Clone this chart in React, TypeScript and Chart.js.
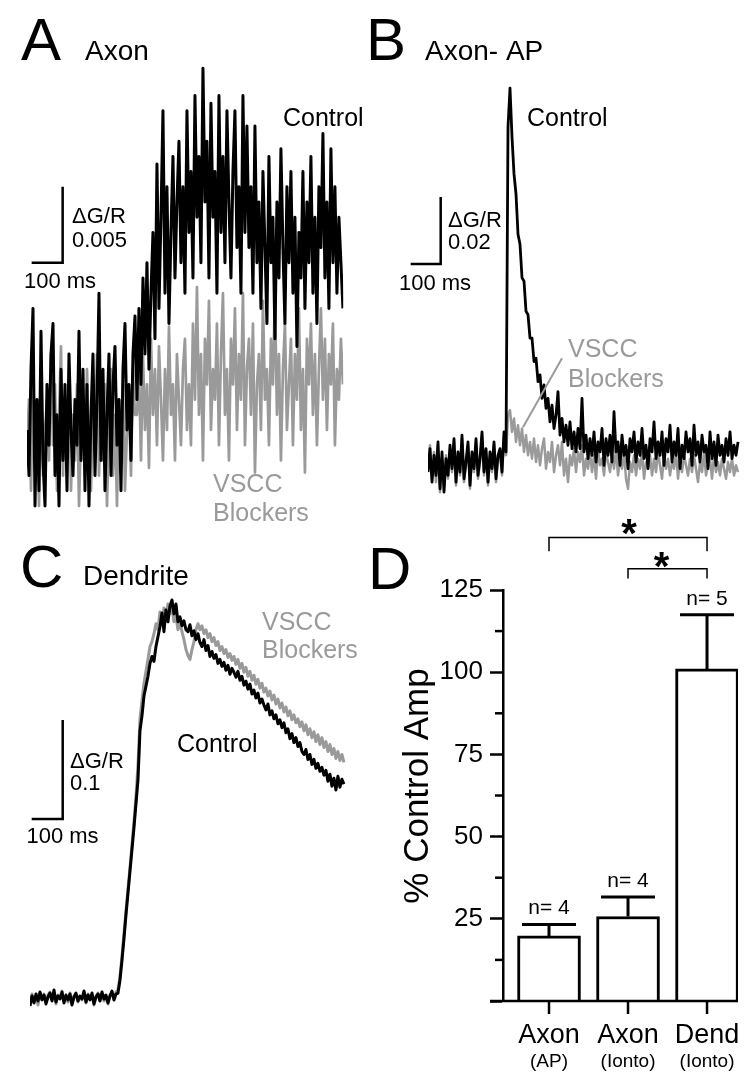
import React, { useEffect, useRef } from "react";
import { Chart, registerables } from "chart.js";

Chart.register(...registerables);

const PAGE_W = 750;
const PAGE_H = 1075;
const FONT = "'Liberation Sans', Arial, Helvetica, sans-serif";
const BLACK = "#000000";
const GRAY = "#9a9a9a";

// ---------------- Panel A: Axon (iontophoresis), ΔG/R ×10⁻³ -----------------
const axonSampleMs = 6.45;
const axonControl = [
  0, -3, 4, 8, -5, 2, -4, 6.5, -2, -5, 3, -1, 5, 7, -3, 1, -5, 4, -2, 3,
  -4, 5, 0, -3, 2, -1, 6.5, -2, 4, -4, 3, -5, 1, 5, -3, 2, 9, -2, 4, -4,
  1, 5, -3, 3, 5.5, -1, 2, -4, 4, 7, 0, 3, -2, 5, 7.5,
  2, 8, 3, 10, 5, 11, 4, 9, 13, 6, 17.5, 8, 14, 21, 9, 16, 7, 13, 18, 10,
  15, 19, 11, 16, 9, 21, 13, 17, 10, 22, 14, 18, 11, 23.8, 15, 19, 10, 21.5, 14, 17,
  9, 22, 13, 18, 11, 21, 15, 10, 17, 21, 12, 16, 9, 22, 13,
  20, 12, 16, 9, 20, 11, 15, 8, 17, 12, 7, 18, 11, 14, 6, 15, 10, 18.5, 12, 7,
  16, 11, 17, 9, 14, 5.5, 13, 10, 17, 8, 15, 11, 18, 9, 14, 7, 16, 12, 19.5, 10,
  15, 8, 18.5, 11, 16, 9, 14, 11, 8,
];
const axonBlockers = [
  -1, 2, -4, 3, -2, 1, -5, 4, -3, 0, 2, -2, 5, -1, 3, -4, 1, 5.5, -3, 2,
  -1, 4, -4, 1, -2, 3, -5, 0, 2, -3, 4, -1, -4, 2, 0, 5, -3, 1, -2, 3,
  -5, 0, 4, -3, 1, -5, 2, -1, 3, -4, 0, 2, -3, 4, 1,
  1, 4, -2, 5, 0, 3, -2.5, 6, 1, 4, -1, 5.5, 2, -2, 4, 0, 6.8, 1, 3, -2,
  5, 2, -1, 4, 6, 0, 3,
  -1, 7, 2, 9.4, 1, 5, -2, 6, 3, 8.5, 0, 4, 2, 7, -1, 5, 9, 1, 4, -2,
  6, 3, 8, 0, 5, 2, 9, -1, 4, 6, 1, 7, -2.8, 3, 5, 0, 8.5, 2, 4, -1,
  6, 3, 9, 1, 5, -2, 4, 7, 0, 3, 6, -1, 5, 2, 8, 0, 4, -2.8, 6, 3,
  7, 1, 5, -1, 4, 8, 2, 6, 0, 5, 3, 7, -1, 4, 2, 6, 3,
];

// ---------------- Panel B: Axon, single AP, ΔG/R ×10⁻³ -----------------
const apSampleMs = 6.667;
const apControl = [
  -3, 4, -6, 2, -4, 6, -8, 3, -9, 1, -4, 5, -2, 7, -6, 3, -3, 8, -5, 0,
  6, -7, 3, -2, 7, -4, 1, 9, -3, 4, -6, 3, -2, 6, -5, 2, 4, -3, 9, 3,
  100, 111.6,
  97, 86, 80, 68, 65, 55, 54, 45, 44, 37, 37, 30, 31, 24, 26, 19, 23, 16, 19, 12,
  17, 10, 14, 21, 8, 13, 6, 11, 5, 12, 4, 9, 3, 10, 4, 19, 3, 8, 1, 7,
  2, 9, 0, 6, 3, 10, -1, 7, 2, 8, 0, 15, 3, 6, -1, 8, 2, 5, -2, 7,
  3, 9, 0, 6, 2, 10, 1, 5, -2, 7, 3, 12, 1, 6, 2, 9, -1, 7, 3, 11,
  0, 6, 2, 10, -2, 5, 1, 9, 3, 7, -1, 11, 2, 6, 0, 8, 3, 5, -2, 9,
  1, 6, -1, 8, 2, 5, 0, 7, 2, 9, 1, 5, 2, 6,
];
const apBlockers = [
  -2, 5, -5, 3, -6, 4, -9, 1, -7, 2, -5, 4, -3, 6, -7, 2, -4, 7, -6, -1,
  5, -8, 2, -3, 6, -5, 0, 8, -4, 3, -7, 2, -3, 5, -6, 1, 3, -4, 7, 2,
  14, 15.5, 9, 13, 6, 11, 5, 10, 3, 8, 2,
  6, 1, 7, 0, 5, -1, 4, 7, -2, 3, 0, 6, -3, 2, 5, -1, 6, -4, 1, -6,
  2, -1, 4, -3, 3, 0, 5, -4, 1, -2, 3, -3, 2, -5, 4, -1, 1, -4, 3, 0,
  -3, 2, -2, 4, -4, 1, -2, 3, -5, -8, 0, -3, 2, -4, 1, -2, 3, -5, 0, -2,
  2, -4, 1, -3, 3, -1, -5, 2, -2, 1, -4, 0, -2, 3, -5, 1, -3, 2, -1, -4,
  1, -3, 2, -2, -6, 0, -3, 3, -4, -1, 1, -5, 2, -3, 0, -4, 1, -2, -5, 0,
  -3, 1, -4, -1, -3,
];

// ---------------- Panel C: Dendrite, ΔG/R ×10⁻³ -----------------
const dendSampleMs = 6.45;
const dendControl = [
  -8, 2, -5, 4, -3, 6, -2, 3, -6, 1, 5, -3, 8, -4, 2, -1, 6, -5, 3, -2,
  4, -7, 1, 5, -3, 2, -1, 7, -4, 3, -2, 5, -6, 1, 4, -3, 6, -1, 3, -5,
  2, 7, -2, 4,
  5, 18, 38, 60, 84, 106, 128, 150, 172, 196, 220, 270, 285, 305, 315, 325, 338, 345, 340, 355,
  365, 375, 389, 370, 392, 380, 396, 402, 388, 398, 380,
  385, 376, 381, 372, 370, 377, 366, 371, 362, 368, 359, 355, 362, 351, 356, 345, 350, 343, 347, 338,
  342, 335, 339, 331, 336, 327, 333, 329, 324, 330, 321, 325, 316, 320, 312, 317, 307, 311, 303, 308,
  298, 302, 296, 291, 297, 286, 290, 282, 286, 277, 281, 273, 278, 268, 272, 262, 267, 258, 263, 254,
  258, 249, 246, 251, 241, 246, 236, 241, 232, 237, 229, 233, 225, 230, 219, 226, 214, 222, 210, 224,
  213, 221, 216,
];
const dendBlockers = [
  -6, 4, -3, 2, -7, 5, -1, 4, -4, 3, 6, -2, 5, -6, 3, 0, 7, -3, 2, -4,
  5, -5, 2, 3, -4, 1, -2, 6, -5, 4, -1, 3, -7, 2, 5, -2, 4, -3, 1, -6,
  3, 5, -1, 6,
  8, 22, 42, 65, 88, 110, 132, 155, 178, 204, 235, 282, 300, 318, 330, 342, 355, 360, 368, 378,
  372, 390, 380, 394, 384, 398, 388, 395, 380, 386, 372,
  380, 370, 362, 352, 346, 342, 352, 360, 372, 378, 372, 376, 368, 372, 364, 368, 360, 364, 356, 360,
  351, 355, 348, 352, 344, 348, 341, 345, 337, 342, 333, 338, 329, 334, 325, 330, 321, 326, 317, 322,
  313, 318, 309, 313, 305, 310, 301, 306, 297, 302, 293, 298, 289, 294, 285, 290, 281, 286, 278, 282,
  274, 279, 270, 276, 266, 272, 263, 269, 259, 266, 256, 263, 253, 259, 249, 256, 246, 252, 242, 249,
  240, 246, 238,
];

// ---------------- Panel D: % control amplitude -----------------
const groupNames = ["Axon", "Axon", "Dend"];
const groupConditions = ["(AP)", "(Ionto)", "(Ionto)"];
const meanPctControl = [19.8, 25.7, 101];
const semPctControl = [3.5, 5.9, 16.5];
const cellCounts = [4, 4, 5];
const amplitudeTicks = [0, 25, 50, 75, 100, 125];
const minorAmplitudeTicks = [12.5, 37.5, 62.5, 87.5, 112.5];

// ---------------- helpers -----------------
function txt(
  ctx: CanvasRenderingContext2D,
  s: string,
  x: number,
  y: number,
  size: number,
  color = BLACK,
  align: CanvasTextAlign = "left",
  weight = "normal"
) {
  ctx.save();
  ctx.font = `${weight} ${size}px ${FONT}`;
  ctx.fillStyle = color;
  ctx.textAlign = align;
  ctx.textBaseline = "alphabetic";
  ctx.fillText(s, x, y);
  ctx.restore();
}

function scaleBar(chart: any, t0: number, t1: number, v0: number, v1: number) {
  const { ctx, scales } = chart;
  const x = scales.x;
  const y = scales.y;
  ctx.save();
  ctx.strokeStyle = BLACK;
  ctx.lineWidth = 2.5;
  ctx.lineJoin = "miter";
  ctx.lineCap = "butt";
  ctx.beginPath();
  ctx.moveTo(x.getPixelForValue(t0), y.getPixelForValue(v0));
  ctx.lineTo(x.getPixelForValue(t1), y.getPixelForValue(v0));
  ctx.lineTo(x.getPixelForValue(t1), y.getPixelForValue(v1));
  ctx.stroke();
  ctx.restore();
}

type Series = { values: number[]; dt: number; color: string; width: number };

function traceConfig(o: {
  left: number;
  right: number;
  top: number;
  bottom: number;
  xMax: number;
  yMin: number;
  yMax: number;
  series: Series[];
  draw: (chart: any) => void;
}): any {
  return {
    type: "line",
    data: {
      datasets: o.series.map((s, k) => ({
        data: s.values.map((v, i) => ({ x: i * s.dt, y: v })),
        borderColor: s.color,
        borderWidth: s.width,
        pointRadius: 0,
        tension: 0,
        fill: false,
        order: k,
        borderJoinStyle: "round",
      })),
    },
    options: {
      responsive: false,
      maintainAspectRatio: false,
      animation: false,
      devicePixelRatio: 1,
      events: [],
      layout: {
        padding: {
          left: o.left,
          right: PAGE_W - o.right,
          top: o.top,
          bottom: PAGE_H - o.bottom,
        },
      },
      scales: {
        x: { type: "linear", display: false, offset: false, min: 0, max: o.xMax },
        y: { type: "linear", display: false, min: o.yMin, max: o.yMax },
      },
      plugins: { legend: { display: false }, tooltip: { enabled: false } },
    },
    plugins: [{ id: "annot", afterDraw: o.draw }],
  };
}

// ---------------- panel configs -----------------
function makePanelA() {
  const pxPerMs = 0.31;
  const base = 430;
  const pxPerUnit = 15.2;
  return traceConfig({
    left: 27,
    right: 27 + 1020 * pxPerMs,
    top: base - 25 * pxPerUnit,
    bottom: base + 6 * pxPerUnit,
    xMax: 1020,
    yMin: -6,
    yMax: 25,
    series: [
      { values: axonControl, dt: axonSampleMs, color: BLACK, width: 3 },
      { values: axonBlockers, dt: axonSampleMs, color: GRAY, width: 2.7 },
    ],
    draw: (chart) => {
      const ctx = chart.ctx;
      scaleBar(chart, 15, 115, 11, 16);
      txt(ctx, "A", 21, 60, 60);
      txt(ctx, "Axon", 85, 60, 28);
      txt(ctx, "ΔG/R", 72, 223, 22);
      txt(ctx, "0.005", 72, 247, 22);
      txt(ctx, "100 ms", 60, 288, 22, BLACK, "center");
      txt(ctx, "Control", 283, 126, 25);
      txt(ctx, "VSCC", 213, 492, 25, GRAY);
      txt(ctx, "Blockers", 213, 521, 25, GRAY);
    },
  });
}

function makePanelB() {
  const pxPerMs = 0.3;
  const base = 462;
  const pxPerUnit = 3.35;
  return traceConfig({
    left: 428,
    right: 428 + 1040 * pxPerMs,
    top: base - 118 * pxPerUnit,
    bottom: base + 10 * pxPerUnit,
    xMax: 1040,
    yMin: -10,
    yMax: 118,
    series: [
      { values: apControl, dt: apSampleMs, color: BLACK, width: 2.8 },
      { values: apBlockers, dt: apSampleMs, color: GRAY, width: 2.5 },
    ],
    draw: (chart) => {
      const { ctx, scales } = chart;
      scaleBar(chart, -57.7, 42.3, 59.1, 79.1);
      // pointer from label to blocker trace
      ctx.save();
      ctx.strokeStyle = GRAY;
      ctx.lineWidth = 2;
      ctx.beginPath();
      ctx.moveTo(scales.x.getPixelForValue(316.7), scales.y.getPixelForValue(10.4));
      ctx.lineTo(scales.x.getPixelForValue(446.7), scales.y.getPixelForValue(31));
      ctx.stroke();
      ctx.restore();
      txt(ctx, "B", 366, 60, 60);
      txt(ctx, "Axon- AP", 425, 60, 28);
      txt(ctx, "ΔG/R", 448, 227, 22);
      txt(ctx, "0.02", 448, 249, 22);
      txt(ctx, "100 ms", 435, 290, 22, BLACK, "center");
      txt(ctx, "Control", 527, 126, 25);
      txt(ctx, "VSCC", 568, 357, 25, GRAY);
      txt(ctx, "Blockers", 568, 387, 25, GRAY);
    },
  });
}

function makePanelC() {
  const pxPerMs = 0.31;
  const base = 998;
  const pxPerUnit = 0.99;
  return traceConfig({
    left: 30,
    right: 30 + 1020 * pxPerMs,
    top: base - 420 * pxPerUnit,
    bottom: base + 20 * pxPerUnit,
    xMax: 1020,
    yMin: -20,
    yMax: 420,
    series: [
      { values: dendControl, dt: dendSampleMs, color: BLACK, width: 3 },
      { values: dendBlockers, dt: dendSampleMs, color: GRAY, width: 3 },
    ],
    draw: (chart) => {
      const ctx = chart.ctx;
      scaleBar(chart, 5.5, 105.5, 180.8, 280.8);
      txt(ctx, "C", 20, 587, 60);
      txt(ctx, "Dendrite", 83, 585, 28);
      txt(ctx, "ΔG/R", 70, 768, 22);
      txt(ctx, "0.1", 70, 790, 22);
      txt(ctx, "100 ms", 62.5, 843, 22, BLACK, "center");
      txt(ctx, "VSCC", 262, 630, 25, GRAY);
      txt(ctx, "Blockers", 262, 658, 25, GRAY);
      txt(ctx, "Control", 177, 752, 25);
    },
  });
}

function makePanelD(): any {
  const padLeft = 385;
  const axisX = 503;
  const panelPlugin = {
    id: "panelD",
    afterDraw(chart: any) {
      const { ctx, chartArea } = chart;
      const x = chart.scales.x;
      const y = chart.scales.y;
      const y0 = y.getPixelForValue(0);
      ctx.save();
      ctx.strokeStyle = BLACK;
      ctx.lineCap = "butt";
      ctx.lineWidth = 2.5;
      // x axis line
      ctx.beginPath();
      ctx.moveTo(chartArea.left - 13, y0);
      ctx.lineTo(chartArea.right, y0);
      ctx.stroke();
      // category ticks
      groupNames.forEach((_, i) => {
        const px = x.getPixelForValue(i);
        ctx.beginPath();
        ctx.moveTo(px, y0);
        ctx.lineTo(px, y0 + 13);
        ctx.stroke();
      });
      // minor y ticks
      minorAmplitudeTicks.forEach((v) => {
        const py = y.getPixelForValue(v);
        ctx.beginPath();
        ctx.moveTo(chartArea.left - 8, py);
        ctx.lineTo(chartArea.left, py);
        ctx.stroke();
      });
      // error bars + n labels
      ctx.lineWidth = 3;
      meanPctControl.forEach((m, i) => {
        const px = x.getPixelForValue(i);
        const pm = y.getPixelForValue(m);
        const pt = y.getPixelForValue(m + semPctControl[i]);
        ctx.beginPath();
        ctx.moveTo(px, pm);
        ctx.lineTo(px, pt);
        ctx.moveTo(px - 27, pt);
        ctx.lineTo(px + 27, pt);
        ctx.stroke();
        txt(ctx, `n= ${cellCounts[i]}`, px, pt - 10, 21, BLACK, "center");
      });
      // significance brackets
      ctx.lineWidth = 1.5;
      const bracket = (a: number, b: number, level: number, legEnd: number) => {
        const xa = x.getPixelForValue(a);
        const xb = x.getPixelForValue(b);
        const yl = y.getPixelForValue(level);
        const ye = y.getPixelForValue(legEnd);
        ctx.beginPath();
        ctx.moveTo(xa, ye);
        ctx.lineTo(xa, yl);
        ctx.lineTo(xb, yl);
        ctx.lineTo(xb, ye);
        ctx.stroke();
        return (xa + xb) / 2;
      };
      const m1 = bracket(0, 2, 141, 136.8);
      const m2 = bracket(1, 2, 131.5, 128.5);
      txt(ctx, "*", m1 + 1, y.getPixelForValue(141) + 10, 40, BLACK, "center", "bold");
      txt(ctx, "*", m2 - 6, y.getPixelForValue(131.5) + 11, 40, BLACK, "center", "bold");
      // category labels
      groupNames.forEach((g, i) => {
        const px = x.getPixelForValue(i);
        txt(ctx, g, px, y0 + 42, 27, BLACK, "center");
        txt(ctx, groupConditions[i], px, y0 + 66, 19, BLACK, "center");
      });
      // y-axis title
      ctx.save();
      ctx.translate(428, 786);
      ctx.rotate(-Math.PI / 2);
      txt(ctx, "% Control Amp", 0, 0, 35, BLACK, "center");
      ctx.restore();
      txt(ctx, "D", 368, 589, 60);
      ctx.restore();
    },
  };
  return {
    type: "bar",
    data: {
      datasets: [
        {
          data: meanPctControl.map((m, i) => ({ x: i, y: m })),
          backgroundColor: "#ffffff",
          borderColor: BLACK,
          borderWidth: 3,
          borderSkipped: "start",
          barThickness: 63,
        },
      ],
    },
    options: {
      responsive: false,
      maintainAspectRatio: false,
      animation: false,
      devicePixelRatio: 1,
      events: [],
      layout: { padding: { left: padLeft, top: 590, right: 12, bottom: 74 } },
      scales: {
        x: {
          type: "linear",
          display: false,
          offset: false,
          grid: { offset: false },
          min: -0.5823,
          max: 2.392,
        },
        y: {
          type: "linear",
          min: 0,
          max: 125,
          afterBuildTicks: (s: any) => {
            s.ticks = amplitudeTicks.map((v) => ({ value: v }));
          },
          afterFit: (s: any) => {
            s.width = axisX - padLeft;
          },
          ticks: {
            font: { family: FONT, size: 26 },
            color: BLACK,
            padding: 7,
            callback: (v: any) => (v === 0 ? "" : String(v)),
          },
          grid: {
            drawOnChartArea: false,
            drawTicks: true,
            tickLength: 13,
            tickWidth: 2.5,
            tickColor: BLACK,
          },
          border: { display: true, color: BLACK, width: 2.5 },
        },
      },
      plugins: { legend: { display: false }, tooltip: { enabled: false } },
    },
    plugins: [panelPlugin],
  };
}

function ChartCanvas({ make }: { make: () => any }) {
  const ref = useRef<HTMLCanvasElement>(null);
  useEffect(() => {
    const chart = new Chart(ref.current as HTMLCanvasElement, make());
    return () => chart.destroy();
  }, []);
  return (
    <canvas
      ref={ref}
      width={PAGE_W}
      height={PAGE_H}
      style={{ position: "absolute", left: 0, top: 0, width: PAGE_W, height: PAGE_H }}
    />
  );
}

export default function App() {
  return (
    <div
      style={{
        position: "absolute",
        left: 0,
        top: 0,
        width: PAGE_W,
        height: PAGE_H,
        background: "#ffffff",
        overflow: "hidden",
      }}
    >
      <ChartCanvas make={makePanelA} />
      <ChartCanvas make={makePanelB} />
      <ChartCanvas make={makePanelC} />
      <ChartCanvas make={makePanelD} />
    </div>
  );
}
